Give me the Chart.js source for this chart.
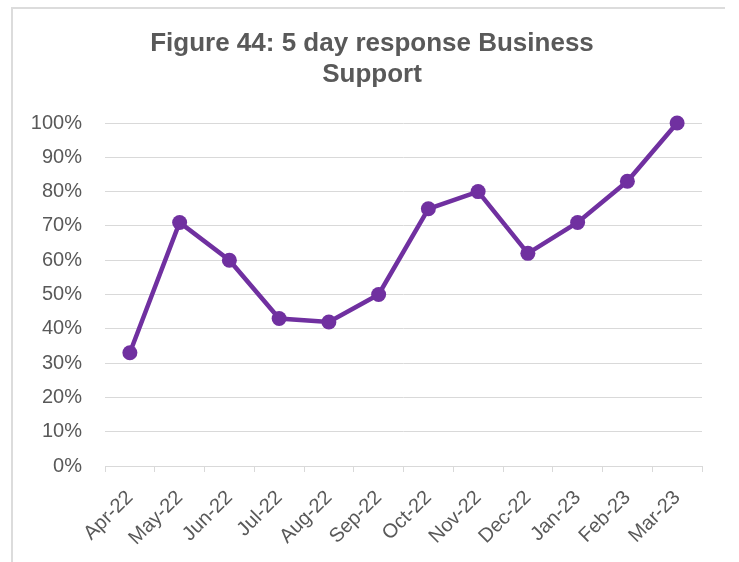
<!DOCTYPE html>
<html>
<head>
<meta charset="utf-8">
<script src="https://cdn.jsdelivr.net/npm/chart.js@4/dist/chart.umd.min.js"></script>
<style>
  html, body { margin: 0; padding: 0; background: #ffffff; }
  #wrap { position: relative; width: 739px; height: 562px; }
</style>
</head>
<body>
<div id="wrap"><canvas id="chart" width="739" height="562"></canvas></div>
<script>
// Monthly share of Business Support cases answered within 5 days
const months = ['Apr-22', 'May-22', 'Jun-22', 'Jul-22', 'Aug-22', 'Sep-22',
                'Oct-22', 'Nov-22', 'Dec-22', 'Jan-23', 'Feb-23', 'Mar-23'];
const fiveDayResponse = [33, 71, 60, 43, 42, 50, 75, 80, 62, 71, 83, 100];
const titleLines = ['Figure 44: 5 day response Business', 'Support'];

const GREY_TEXT = '#595959';
const GRID = '#d9d9d9';
const PURPLE = '#7030A0';
const FONT = '"Liberation Sans", Arial, sans-serif';

// Thin frame along the top and left edges, plus the two-line heading
const decorPlugin = {
  id: 'decor',
  beforeDraw(chart) {
    const ctx = chart.ctx;
    ctx.save();
    ctx.fillStyle = '#dcdcdc';
    ctx.fillRect(11, 7, 714, 2);
    ctx.fillRect(11, 7, 2, chart.height - 7);
    ctx.fillStyle = GREY_TEXT;
    ctx.font = 'bold 26px ' + FONT;
    ctx.textAlign = 'center';
    ctx.textBaseline = 'middle';
    titleLines.forEach((line, i) => ctx.fillText(line, 372, 44 + i * 31));
    ctx.restore();
  }
};

new Chart(document.getElementById('chart'), {
  type: 'line',
  data: {
    labels: months,
    datasets: [{
      data: fiveDayResponse,
      borderColor: PURPLE,
      backgroundColor: PURPLE,
      borderWidth: 4.5,
      pointRadius: 7.5,
      pointHoverRadius: 7.5,
      pointBackgroundColor: PURPLE,
      pointBorderWidth: 0,
      tension: 0,
      fill: false,
      clip: false
    }]
  },
  options: {
    responsive: false,
    animation: false,
    layout: { padding: { left: 20, right: 37, top: 123, bottom: 0 } },
    plugins: {
      legend: { display: false },
      tooltip: { enabled: false },
      title: { display: false }
    },
    scales: {
      x: {
        offset: true,
        afterFit(scale) { scale.height = 96; },
        grid: {
          offset: true,
          drawOnChartArea: false,
          drawTicks: true,
          tickLength: 6,
          color: GRID,
          lineWidth: 1
        },
        border: { display: true, color: GRID, width: 1 },
        ticks: {
          color: GREY_TEXT,
          font: { family: FONT, size: 20 },
          maxRotation: 45,
          minRotation: 45,
          padding: 14,
          autoSkip: false
        }
      },
      y: {
        min: 0,
        max: 100,
        afterFit(scale) { scale.width = 85; },
        grid: {
          color: GRID,
          lineWidth: 1,
          drawTicks: false
        },
        border: { display: false },
        ticks: {
          stepSize: 10,
          color: GREY_TEXT,
          font: { family: FONT, size: 20 },
          padding: 23,
          callback: (v) => v + '%'
        }
      }
    }
  },
  plugins: [decorPlugin]
});
</script>
</body>
</html>
